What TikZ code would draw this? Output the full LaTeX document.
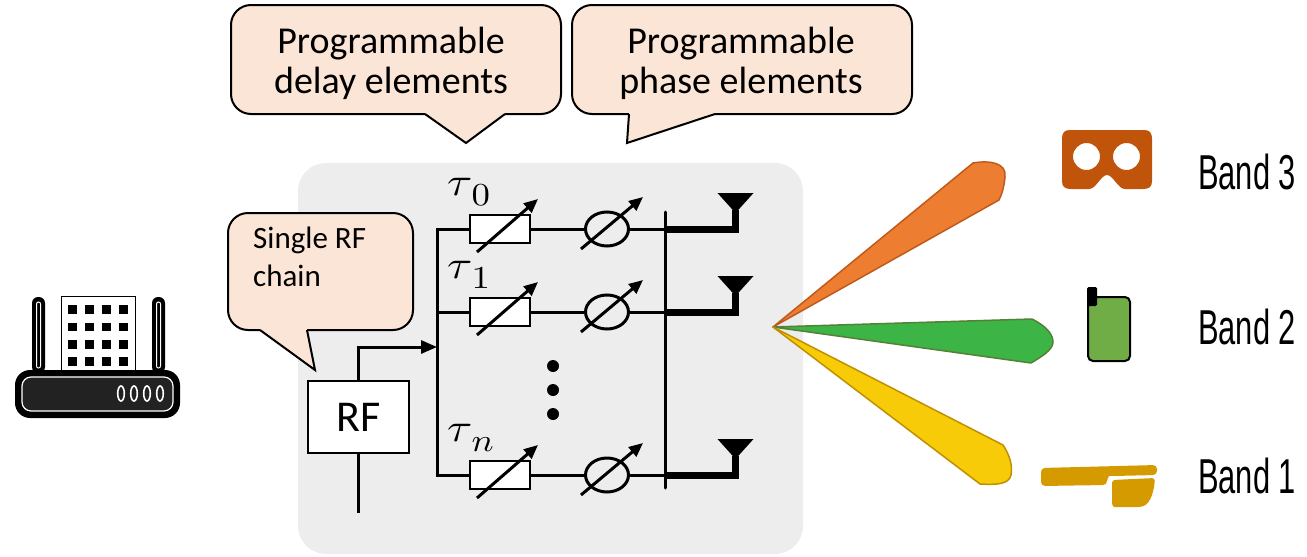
\documentclass[tikz,border=0pt]{standalone}
\usepackage{fontspec}
\setmainfont{Carlito}
\newfontfamily\bandfont[FakeStretch=0.63]{Liberation Sans}
\usetikzlibrary{arrows.meta,calc,shapes.geometric}

\definecolor{calloutfill}{HTML}{FBE5D6}
\definecolor{panelgray}{HTML}{EDEDED}
\definecolor{beamorange}{HTML}{ED7D31}
\definecolor{beamorangeedge}{HTML}{C05A1C}
\definecolor{beamgreen}{HTML}{3CB546}
\definecolor{beamgreenedge}{HTML}{538135}
\definecolor{beamyellow}{HTML}{F7CB08}
\definecolor{beamyellowedge}{HTML}{BF9000}
\definecolor{headsetcol}{HTML}{C0540A}
\definecolor{phonecol}{HTML}{70AD47}
\definecolor{glassescol}{HTML}{D49A00}
\definecolor{routerdark}{HTML}{222222}

\tikzset{
  callbox/.style={draw=black, line width=2, fill=calloutfill, rounded corners=20, inner sep=0},
  calltext/.style={anchor=north, inner sep=0, align=center, font=\fontsize{38}{40}\selectfont},
  pointerfill/.style={fill=calloutfill},
  pointeredge/.style={draw=black, line width=2, line join=miter},
  wire/.style={line width=3, line join=miter},
  feed/.style={line width=7, line join=miter},
  delaybox/.style={draw=black, line width=2.5, fill=white, minimum width=60, minimum height=28, inner sep=0},
  phasebox/.style={ellipse, draw=black, line width=3, minimum width=43, minimum height=34, inner sep=0},
  tune/.style={line width=3, -{Triangle[length=14,width=12]}},
  taulabel/.style={anchor=base west, inner sep=0, font=\normalsize},
  bandlabel/.style={anchor=west, inner sep=0, font=\bandfont\fontsize{49}{55}\selectfont},
}
% delay symbol with a full-size, lowered index
\newcommand{\delaysym}[1]{\scalebox{4.6}[4.0]{$\tau\kern-0.02em\lower0.27em\hbox{\scalebox{0.8}{$#1$}}$}}

\begin{document}
\begin{tikzpicture}[x=1pt,y=-1pt]
\useasboundingbox (0,0) rectangle (1307,557);

% panel behind the beamforming network
\fill[panelgray, rounded corners=28] (298,163) rectangle (803,554);

% ---- callouts ----
\node[callbox, minimum width=330, minimum height=109] (delaynote) at (396,59.5) {};
\fill[pointerfill] (425,111) -- (425,114) -- (466,143) -- (505,114) -- (505,111) -- cycle;
\draw[pointeredge] (425,114) -- (466,143) -- (505,114);
\node[calltext] (delaytext) at (391,27) {Programmable\\delay elements};

\node[callbox, minimum width=340, minimum height=109] (phasenote) at (742,59.5) {};
\fill[pointerfill] (629,111) -- (629,114) -- (627,143) -- (715,114) -- (715,111) -- cycle;
\draw[pointeredge] (629,114) -- (627,143) -- (715,114);
\node[calltext] (phasetext) at (741,27) {Programmable\\phase elements};

\node[callbox, minimum width=185, minimum height=117] (rfnote) at (320.5,271.5) {};
\fill[pointerfill] (260,327) -- (260,330) -- (315,370) -- (307,330) -- (307,327) -- cycle;
\draw[pointeredge] (260,330) -- (315,370) -- (307,330);
\node[anchor=north west, inner sep=0, align=left, font=\fontsize{31}{38}\selectfont]
  (rftext) at (253,227) {Single RF\\chain};

% ---- RF chain ----
\node[draw=black, line width=2.5, fill=white, minimum width=101, minimum height=72,
  inner sep=0, font=\fontsize{44}{48}\selectfont] (rf) at (358.5,417) {RF};
\coordinate (rfin) at (358.5,513);
\coordinate (rfturn) at (358.5,347);
\coordinate (busin) at (437,347);
\draw[wire] (rf.south) -- (rfin);
\draw[wire, -{Triangle[length=16,width=13]}] (rf.north) -- (rfturn) -- (busin);

% ---- delay / phase rows ----
\foreach \r/\y in {0/229, 1/312, n/475} {
  \node[delaybox] (del\r) at (500,\y) {};
  \node[phasebox] (ph\r) at (607,\y) {};
  \coordinate (bus\r) at (437,\y);
  \coordinate (bar\r) at (665,\y);
  \coordinate (ant\r) at (735.5,\y);
  \draw[wire] (bus\r) -- (del\r.west);
  \draw[wire] (del\r.east) -- (ph\r.west);
  \draw[wire] (ph\r.east) -- (bar\r);
  \draw[tune] ($(del\r)+(-23,23)$) -- ($(del\r)+(38,-30)$);
  \draw[tune] ($(ph\r)+(-26,20)$) -- ($(ph\r)+(36,-32)$);
  % antenna: feed line and horn
  \draw[feed] (bar\r) -- (ant\r) -- ($(ant\r)+(0,-19)$);
  \fill ($(ant\r)+(-18,-36)$) -- ($(ant\r)+(18,-36)$) -- ($(ant\r)+(0,-16)$) -- cycle;
}
\draw[wire] (del0.west) -- (bus0) -- (busn) -- (deln.west);
\coordinate (bartop) at (665,212);
\coordinate (barbot) at (665,488);
\draw[line width=3, line cap=round] (bartop) -- (barbot);

\node[taulabel] (tau0) at (447,195) {\delaysym{0}};
\node[taulabel] (tau1) at (447,278) {\delaysym{1}};
\node[taulabel] (taun) at (447,441) {\delaysym{n}};

\foreach \y in {366,390,414} \fill (553,\y) circle (6);

% ---- beams ----
\coordinate (apex) at (773,327);
\filldraw[fill=beamorange, draw=beamorangeedge, line width=1.5, line join=round]
  (apex) -- (973,163) .. controls (990,160) and (1007,163) .. (1005,177)
  .. controls (1004,187) and (1002,194) .. (999,200) -- cycle;
\filldraw[fill=beamgreen, draw=beamgreenedge, line width=1.5, line join=round]
  (apex) -- (1032,319) .. controls (1044,325) and (1053,333) .. (1053,342)
  .. controls (1053,350) and (1041,357) .. (1031,363) -- cycle;
\filldraw[fill=beamyellow, draw=beamyellowedge, line width=1.5, line join=round]
  (apex) -- (1003,445) .. controls (1009,454) and (1013,465) .. (1011,475)
  .. controls (1009,484) and (998,485) .. (980,484) -- cycle;

% ---- devices ----
% VR headset
\fill[headsetcol, even odd rule]
  (1070,130) -- (1144,130) .. controls (1150,130) and (1152,133) .. (1152,139)
  -- (1152,181) .. controls (1152,187) and (1149,189) .. (1143,189)
  -- (1125,189) .. controls (1118,189) and (1113,175) .. (1107,175)
  .. controls (1101,175) and (1096,189) .. (1089,189)
  -- (1071,189) .. controls (1065,189) and (1062,187) .. (1062,181)
  -- (1062,139) .. controls (1062,133) and (1064,130) .. (1070,130) -- cycle
  (1086.5,156.5) circle (13.5) (1126.5,156.5) circle (13.5);
% phone
\draw[fill=phonecol, line width=2, rounded corners=5] (1088,297) rectangle (1130,361);
\fill[black, rounded corners=1.5] (1087,287) rectangle (1097,306);
% glasses
\fill[glassescol, rounded corners=4]
  (1041,468) -- (1157,465) -- (1157,475) -- (1113,476)
  .. controls (1109,476) and (1107,479) .. (1107,485) -- (1041,486) -- cycle;
\fill[glassescol, rounded corners=3]
  (1112,480) -- (1155,478) .. controls (1154,490) and (1151,503) .. (1141,507)
  -- (1117,507) .. controls (1113,507) and (1112,504) .. (1112,500) -- cycle;

\node[bandlabel] (band3) at (1198,172) {Band 3};
\node[bandlabel] (band2) at (1198,327) {Band 2};
\node[bandlabel] (band1) at (1198,476) {Band 1};

% ---- access point ----
\fill[black, rounded corners=6] (32,297) rectangle (45,373);
\fill[black, rounded corners=6] (152,297) rectangle (165,373);
\draw[white, line width=1, rounded corners=2] (36.5,302) rectangle (40.5,368);
\draw[white, line width=1, rounded corners=2] (156.5,302) rectangle (160.5,368);
\draw[line width=1, fill=white] (61,296) rectangle (135,370);
\foreach \wx in {68,85,102,119}
  \foreach \wy in {305,322.5,340,357}
    \fill (\wx,\wy) rectangle ++(9,8.5);
\fill[black, rounded corners=15] (15,370) rectangle (180,418);
\draw[white, line width=1.2, fill=routerdark, rounded corners=9] (22,377) rectangle (173,411);
\foreach \lx in {121,134,147,160}
  \draw[white, line width=1.6] (\lx,393.5) ellipse (3.3 and 7.5);

\end{tikzpicture}
\end{document}
